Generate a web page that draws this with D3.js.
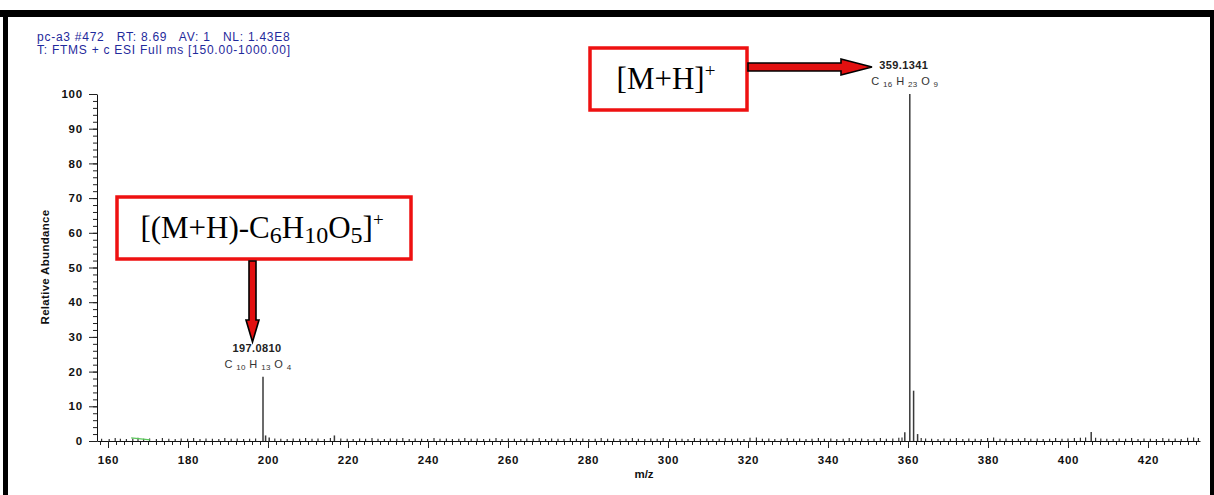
<!DOCTYPE html>
<html><head><meta charset="utf-8">
<script src="https://cdn.jsdelivr.net/npm/d3@7"></script>
<style>
html,body{margin:0;padding:0;background:#fff;}
svg{display:block;}
text{font-family:"Liberation Sans",Arial,sans-serif;white-space:pre;}
text.serif{font-family:"Liberation Serif","Times New Roman",serif;}
</style></head><body>
<svg id="chart" width="1214" height="495"></svg>
<script>
// ---- data ----
const xTickValues = [160,180,200,220,240,260,280,300,320,340,360,380,400,420];
const yTickValues = [0,10,20,30,40,50,60,70,80,90,100];
const headerLines = ["pc-a3 #472   RT: 8.69   AV: 1   NL: 1.43E8", "T: FTMS + c ESI Full ms [150.00-1000.00]"];
// labelled / major peaks (m/z as placed on the drawn axis, relative abundance %)
const peakMz  = [198.75, 360.45, 361.4, 359.2, 362.4, 405.8, 216.6, 199.4, 200.3];
const peakInt = [18.5,   100,    14.5,  2.5,   2.0,   2.6,   1.6,   1.6,   1.0];
// baseline noise (m/z, %)
const noiseMz = [158.4,160.3,161.8,163.1,164.6,166.2,167.5,168.9,170.4,172.1,173.6,175.2,176.8,178.3,179.9,181.4,183.0,184.5,186.1,187.7,189.2,190.8,192.3,193.9,195.4,196.9,201.7,203.2,204.8,206.3,207.9,209.4,211.0,212.5,214.1,215.6,218.2,219.8,221.3,222.9,224.4,226.0,227.5,229.1,230.6,232.2,233.7,235.3,236.8,238.4,239.9,241.5,243.0,244.6,246.1,247.7,249.2,250.8,252.3,253.9,255.4,257.0,258.5,260.1,261.6,263.2,264.7,266.3,267.8,269.4,270.9,272.5,274.0,275.6,277.1,278.7,280.2,281.8,283.3,284.9,286.4,288.0,289.5,291.1,292.6,294.2,295.7,297.3,298.8,300.4,301.9,303.5,305.0,306.6,308.1,309.7,311.2,312.8,314.3,315.9,317.4,319.0,320.5,322.1,323.6,325.2,326.7,328.3,329.8,331.4,332.9,334.5,336.0,337.6,339.1,340.7,342.2,343.8,345.3,346.9,348.4,350.0,351.5,353.1,354.6,356.2,357.7,358.5,363.3,364.4,365.9,367.5,369.0,370.6,372.1,373.7,375.2,376.8,378.3,379.9,381.4,383.0,384.5,386.1,387.6,389.2,390.7,392.3,393.8,395.4,396.9,398.5,400.0,401.6,403.1,404.4,406.9,408.2,409.7,411.3,412.8,414.4,415.9,417.5,419.0,420.6,422.1,423.7,425.2,426.8,428.3,429.9,431.4,432.6];
const noiseH  = [0.5,0.4,0.7,0.5,0.4,0.6,0.8,0.5,0.6,0.4,0.7,0.5,0.4,0.6,0.5,0.7,0.4,0.6,0.5,0.4,0.7,0.5,0.6,0.4,0.5,0.6,0.6,0.5,0.4,0.6,0.5,0.7,0.5,0.6,0.4,0.7,0.6,0.5,0.4,0.6,0.5,0.7,0.5,0.4,0.6,0.5,0.7,0.4,0.6,0.5,0.4,0.7,0.5,0.6,0.4,0.5,0.7,0.5,0.6,0.4,0.5,0.7,0.4,0.6,0.5,0.4,0.6,0.5,0.7,0.4,0.6,0.5,0.4,0.7,0.5,0.6,0.4,0.5,0.7,0.5,0.6,0.4,0.5,0.7,0.5,0.4,0.6,0.5,0.7,0.4,0.6,0.5,0.4,0.7,0.5,0.6,0.4,0.5,0.7,0.5,0.6,0.4,0.8,0.9,0.5,0.6,0.4,0.5,0.7,0.5,0.6,0.4,0.5,0.7,0.5,0.6,0.4,0.5,0.7,0.5,0.6,0.4,0.5,0.7,0.5,0.6,0.8,0.9,0.7,0.6,0.5,0.4,0.6,0.5,0.7,0.4,0.6,0.5,0.4,0.7,0.9,0.5,0.6,0.4,0.5,0.7,0.5,0.6,0.4,0.5,0.7,0.5,0.6,0.7,0.8,0.9,0.8,0.6,0.5,0.4,0.6,0.5,0.7,0.4,0.6,0.5,0.4,0.7,0.5,0.6,0.4,0.8,0.9,0.7];
// peak annotations
const peakLabelMz   = [360.45, 198.75];
const peakLabelMass = ["359.1341", "197.0810"];
const peakFormula   = [[["C ",""],["16","s"],[" H ",""],["23","s"],[" O ",""],["9","s"]],
                       [["C ",""],["10","s"],[" H ",""],["13","s"],[" O ",""],["4","s"]]];

// ---- setup ----
const svg = d3.select("#chart");
const x = d3.scaleLinear().domain([157.25, 433]).range([97, 1200]);
const y = d3.scaleLinear().domain([0, 100]).range([441, 94]);

// frame
svg.append("rect").attr("x",0).attr("y",10).attr("width",1214).attr("height",7).attr("fill","#000");
svg.append("rect").attr("x",3).attr("y",10).attr("width",5).attr("height",485).attr("fill","#000");
svg.append("rect").attr("x",1210).attr("y",10).attr("width",4).attr("height",485).attr("fill","#000");

// header
svg.selectAll("text.hdr").data(headerLines).join("text").attr("class","hdr")
  .attr("x",37).attr("y",(d,i)=>41+i*13).style("font-size","12px").style("letter-spacing","0.75px")
  .attr("fill","#1f2a9c").text(d=>d);

// axes
const fmtAxis = g => { g.selectAll("text").attr("font-weight","bold").style("font-size","11.5px")
  .style("letter-spacing","0.8px").attr("fill","#111");
  g.selectAll("line").attr("stroke","#222"); g.select(".domain").attr("stroke","#111"); };

const xMinor = d3.range(158, 434, 2);
svg.append("g").attr("transform","translate(0,441)")
  .call(d3.axisBottom(x).tickValues(xMinor).tickSize(4).tickFormat(""))
  .call(g=>{g.select(".domain").remove(); g.selectAll("line").attr("stroke","#222");});
svg.append("g").attr("transform","translate(0,441)")
  .call(d3.axisBottom(x).tickValues(xTickValues).tickSize(7).tickPadding(8).tickSizeOuter(0).tickFormat(d3.format("d")))
  .call(fmtAxis);

const yMinor = d3.range(0, 101, 2);
svg.append("g").attr("transform","translate(97,0)")
  .call(d3.axisLeft(y).tickValues(yMinor).tickSize(4).tickFormat(""))
  .call(g=>{g.select(".domain").remove(); g.selectAll("line").attr("stroke","#222");});
svg.append("g").attr("transform","translate(97,0)")
  .call(d3.axisLeft(y).tickValues(yTickValues).tickSize(8).tickPadding(6).tickSizeOuter(0).tickFormat(d3.format("d")))
  .call(fmtAxis);

svg.append("text").attr("transform","translate(49,267) rotate(-90)").attr("text-anchor","middle")
  .style("font-size","11.5px").style("letter-spacing","0.3px").attr("font-weight","bold").attr("fill","#111").text("Relative Abundance");
svg.append("text").attr("x",644).attr("y",478).attr("text-anchor","middle")
  .style("font-size","11.5px").attr("font-weight","bold").attr("fill","#111").text("m/z");

// noise
const noise = noiseMz.map((m,i)=>({m, h:noiseH[i]}));
svg.append("g").selectAll("line").data(noise).join("line")
  .attr("x1",d=>x(d.m)).attr("x2",d=>x(d.m)).attr("y1",y(0)).attr("y2",d=>y(d.h)-0.5)
  .attr("stroke","#333").attr("stroke-width",1.2);
// short green trace near 168
svg.append("line").attr("x1",x(165.8)).attr("y1",y(0.9)).attr("x2",x(170.5)).attr("y2",y(0.35))
  .attr("stroke","#5cc85c").attr("stroke-width",1.2);

// peaks
const peaks = peakMz.map((m,i)=>({m, v:peakInt[i]}));
svg.append("g").selectAll("line").data(peaks).join("line")
  .attr("x1",d=>x(d.m)).attr("x2",d=>x(d.m)).attr("y1",y(0)).attr("y2",d=>y(d.v))
  .attr("stroke","#3a3a3a").attr("stroke-width",1.5);

// peak labels
peakLabelMz.forEach((m,i)=>{
  const topY = y(peakInt[peakMz.indexOf(m)]);
  const cx = x(m) - 6;
  svg.append("text").attr("x",cx).attr("y",topY-25).attr("text-anchor","middle")
    .style("font-size","11px").style("letter-spacing","0.4px").attr("font-weight","bold").attr("fill","#222").text(peakLabelMass[i]);
  const t = svg.append("text").attr("x",cx+1).attr("y",topY-9).attr("text-anchor","middle")
    .style("font-size","11px").style("letter-spacing","0.4px").attr("fill","#333");
  peakFormula[i].forEach(([s,k],j)=>{
    const ts = t.append("tspan").text(s);
    if(k==="s") ts.style("font-size","8px").attr("dy",2);
    else ts.attr("dy", j===0 ? 0 : -2);
  });
});

// annotation boxes
svg.append("rect").attr("x",590).attr("y",48).attr("width",157).attr("height",62)
  .attr("fill","#fff").attr("stroke","#ee1111").attr("stroke-width",3.5);
const t1 = svg.append("text").attr("class","serif").attr("x",666).attr("y",89).attr("text-anchor","middle")
  .style("font-size","31px").attr("fill","#000");
t1.append("tspan").text("[M+H]");
t1.append("tspan").text("+").style("font-size","19px").attr("dy",-12);

svg.append("rect").attr("x",117).attr("y",197).attr("width",294).attr("height",62)
  .attr("fill","#fff").attr("stroke","#ee1111").attr("stroke-width",3.5);
const t2 = svg.append("text").attr("class","serif").attr("x",262).attr("y",238).attr("text-anchor","middle")
  .style("font-size","31px").attr("fill","#000");
[["[(M+H)-C",0,31],["6",5,24],["H",-5,31],["10",5,24],["O",-5,31],["5",5,24],["]",-5,31],["+",-12,19]]
  .forEach(([s,dy,fs])=>t2.append("tspan").text(s).attr("dy",dy).style("font-size",fs+"px"));

// arrows
const arrowR = d3.path();
arrowR.moveTo(748,63); arrowR.lineTo(841,63); arrowR.lineTo(841,59); arrowR.lineTo(872,67);
arrowR.lineTo(841,75); arrowR.lineTo(841,71); arrowR.lineTo(748,71); arrowR.closePath();
svg.append("path").attr("d",arrowR.toString()).attr("fill","#e21010").attr("stroke","#000").attr("stroke-width",1.6);

const arrowD = d3.path();
arrowD.moveTo(249,261); arrowD.lineTo(256,261); arrowD.lineTo(256,320); arrowD.lineTo(259,320);
arrowD.lineTo(252.5,342); arrowD.lineTo(246,320); arrowD.lineTo(249,320); arrowD.closePath();
svg.append("path").attr("d",arrowD.toString()).attr("fill","#e21010").attr("stroke","#000").attr("stroke-width",1.6);
</script>
</body></html>
